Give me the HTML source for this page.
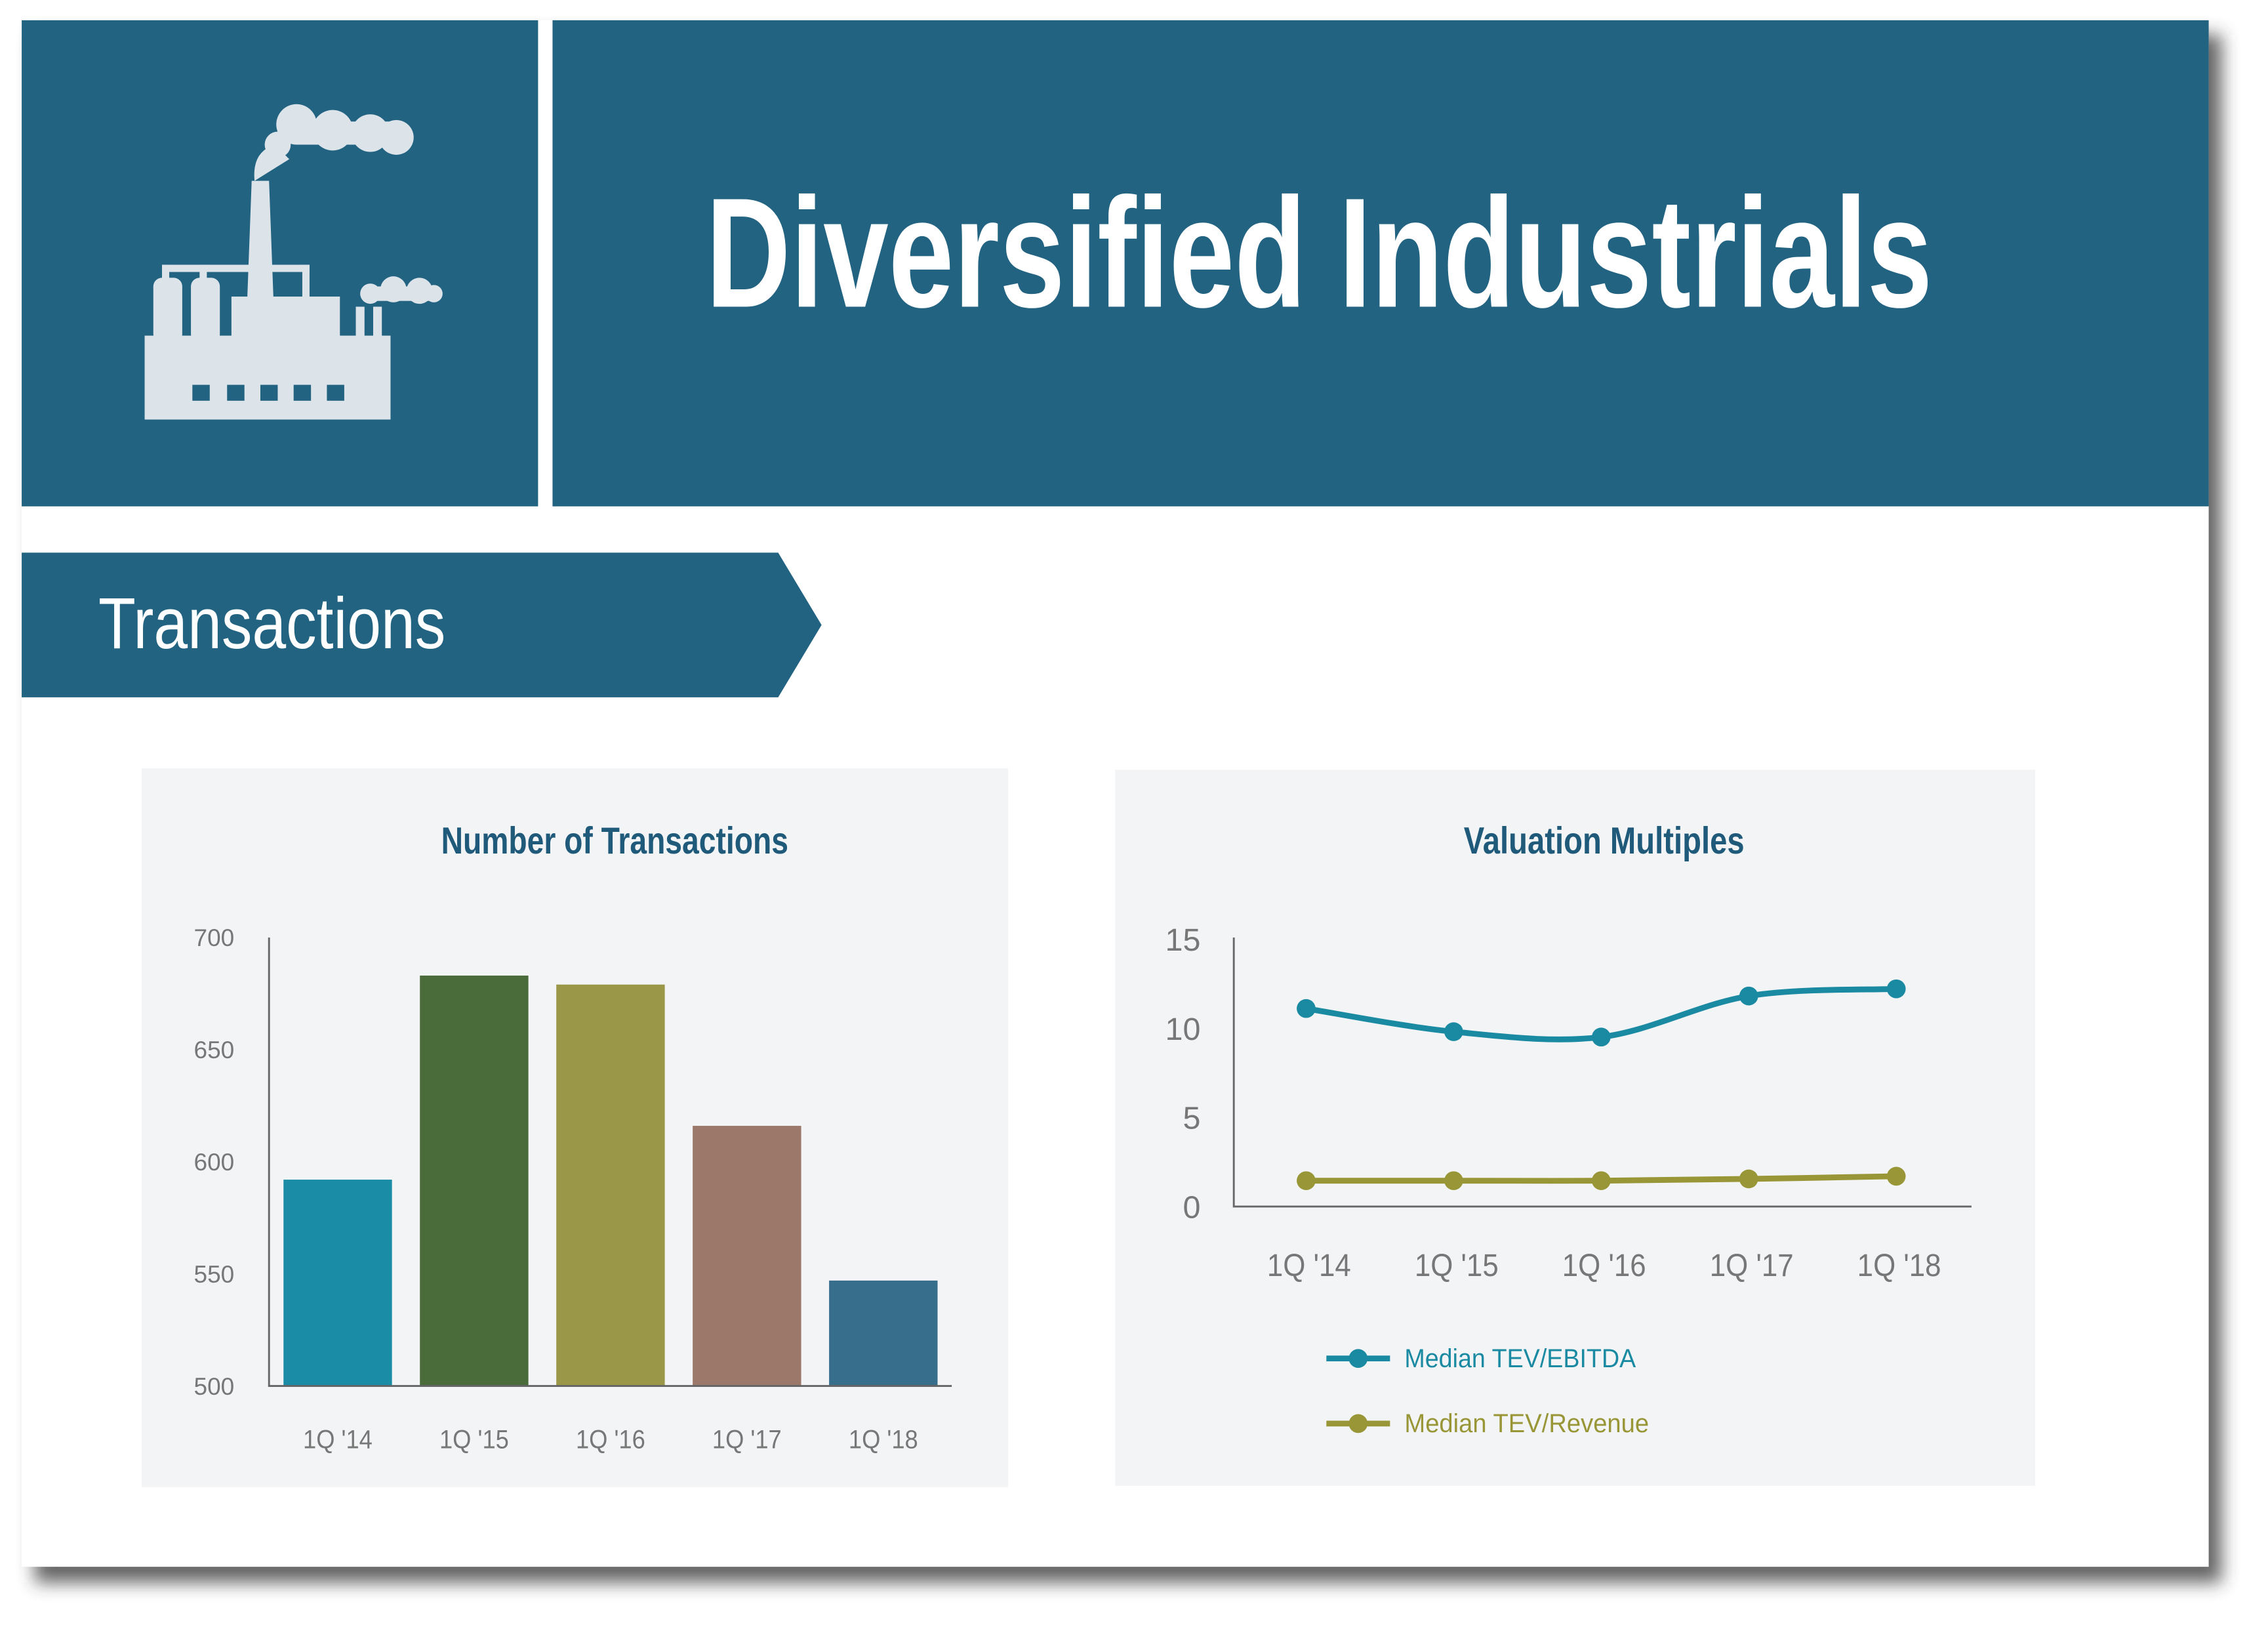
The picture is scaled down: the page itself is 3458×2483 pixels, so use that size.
<!DOCTYPE html>
<html><head><meta charset="utf-8"><style>
html,body{margin:0;padding:0;background:#fff;}
svg{display:block;}
text{font-family:"Liberation Sans Narrow","Liberation Sans",sans-serif;}
</style></head><body>
<svg id="root" width="3458" height="2483" viewBox="0 0 1568 1126" preserveAspectRatio="none">
<defs><filter id="sh" x="-5%" y="-5%" width="110%" height="110%"><feGaussianBlur stdDeviation="6"/></filter></defs>
<rect x="24" y="24" width="1512" height="1070" fill="#333" opacity="0.75" filter="url(#sh)"/>
<rect x="15" y="14" width="1512" height="1069" fill="#fff"/>
<rect x="15" y="14" width="357" height="336" fill="#236382"/>
<rect x="382" y="14" width="1145" height="336" fill="#236382"/>
<g fill="#dce4ea">
<rect x="100" y="232" width="170" height="58"/>
<rect x="106" y="192" width="20" height="45" rx="6"/>
<rect x="132" y="192" width="20" height="45" rx="6"/>
<rect x="112" y="183" width="102" height="5"/>
<rect x="112" y="183" width="5" height="15"/><rect x="138" y="183" width="5" height="15"/><rect x="209" y="183" width="5" height="25"/>
<polygon points="170,232 174,125 186,125 190,232"/>
<rect x="160" y="205" width="75" height="30"/>
<rect x="246" y="212" width="6" height="22"/><rect x="258" y="212" width="6" height="22"/>
<path d="M176 125 Q174 105 190 100 L200 110 Z"/>
<circle cx="192" cy="100" r="9"/><circle cx="205" cy="86" r="14"/><circle cx="230" cy="90" r="14"/><circle cx="256" cy="92" r="13"/><circle cx="274" cy="95" r="12"/>
<rect x="205" y="84" width="70" height="16"/>
<circle cx="256" cy="203" r="7"/><circle cx="272" cy="200" r="9"/><circle cx="290" cy="201" r="9"/><circle cx="300" cy="203" r="6"/>
<rect x="256" y="198" width="44" height="10"/>
</g>
<g fill="#236382"><rect x="133" y="266" width="12" height="11"/><rect x="157" y="266" width="12" height="11"/><rect x="180" y="266" width="12" height="11"/><rect x="203" y="266" width="12" height="11"/><rect x="226" y="266" width="12" height="11"/></g>
<text x="912" y="212" text-anchor="middle" font-size="108" font-weight="bold" fill="#fff" textLength="848" lengthAdjust="spacingAndGlyphs">Diversified Industrials</text>
<polygon points="15,382 538,382 568,432 538,482 15,482" fill="#236382"/>
<text x="68" y="448" font-size="50" fill="#fff" textLength="240" lengthAdjust="spacingAndGlyphs">Transactions</text>
<rect x="98" y="531" width="599" height="497" fill="#f3f4f6"/>
<rect x="771" y="532" width="636" height="495" fill="#f3f4f6"/>
<text x="425" y="590" text-anchor="middle" font-size="26" font-weight="bold" fill="#1f5a7a" textLength="240" lengthAdjust="spacingAndGlyphs">Number of Transactions</text>
<text x="1109" y="590" text-anchor="middle" font-size="26" font-weight="bold" fill="#1f5a7a" textLength="194" lengthAdjust="spacingAndGlyphs">Valuation Multiples</text>
<g id="bars"></g>
<g id="lines"></g>
</svg>
<script>
const barCats=["1Q '14","1Q '15","1Q '16","1Q '17","1Q '18"];
const barVals=[592,683,679,616,547];
const barTicks=[500,550,600,650,700];
const barColors=["#1b8ca6","#4a6b3a","#9a9848","#9c786a","#366e8c"];
const lineCats=["1Q '14","1Q '15","1Q '16","1Q '17","1Q '18"];
const ebitda=[11.1,9.8,9.5,11.8,12.2];
const revenue=[1.45,1.45,1.45,1.55,1.7];
const lineTicks=[0,5,10,15];
const NS="http://www.w3.org/2000/svg";
function mk(p,t,a,txt){const e=document.createElementNS(NS,t);for(const k in a)e.setAttribute(k,a[k]);if(txt!=null)e.textContent=txt;p.appendChild(e);return e;}
const tc='#777';
// bar chart
const bg=document.getElementById('bars');
const by=v=>958-(v-500)/200*310;
const bx=i=>196+i*94.3;
barTicks.forEach(t=>{const e=mk(bg,'text',{x:162,y:by(t)+6,'text-anchor':'end','font-size':17,fill:tc,textLength:28,lengthAdjust:'spacingAndGlyphs'},t);

});
barVals.forEach((v,i)=>{const r=mk(bg,'rect',{x:bx(i),y:by(v),width:75,height:958-by(v),fill:barColors[i]});


const l=mk(bg,'text',{x:bx(i)+37.5,y:1001,'text-anchor':'middle','font-size':18,fill:tc,textLength:48,lengthAdjust:'spacingAndGlyphs'},barCats[i]);

});
const a1=mk(bg,'path',{d:'M186 648V958H658',stroke:'#666','stroke-width':1.3,fill:'none'});


// line chart
const lg=document.getElementById('lines');
const ly=v=>834-v/15*185;
const lx=i=>903+i*102;
lineTicks.forEach(t=>{const e=mk(lg,'text',{x:830,y:ly(t)+8,'text-anchor':'end','font-size':22,fill:tc},t);

});
lineCats.forEach((c,i)=>{const e=mk(lg,'text',{x:lx(i)+2,y:882,'text-anchor':'middle','font-size':22,fill:tc,textLength:58,lengthAdjust:'spacingAndGlyphs'},c);

});
const a2=mk(lg,'path',{d:'M853 648V834H1363',stroke:'#666','stroke-width':1.3,fill:'none'});


function smooth(vals){let pts=vals.map((v,i)=>[lx(i),ly(v)]);let d='M'+pts[0].join(' ');
for(let i=0;i<pts.length-1;i++){const p0=pts[Math.max(0,i-1)],p1=pts[i],p2=pts[i+1],p3=pts[Math.min(pts.length-1,i+2)];
const c1=[p1[0]+(p2[0]-p0[0])/6,p1[1]+(p2[1]-p0[1])/6],c2=[p2[0]-(p3[0]-p1[0])/6,p2[1]-(p3[1]-p1[1])/6];
d+=`C${c1[0]} ${c1[1]} ${c2[0]} ${c2[1]} ${p2[0]} ${p2[1]}`;}return d;}
[[ebitda,'#1a8aa3','ebitda'],[revenue,'#999637','revenue']].forEach(([vals,col,nm])=>{
const p=mk(lg,'path',{d:smooth(vals),stroke:col,'stroke-width':4,fill:'none'});


vals.forEach((v,i)=>{const c=mk(lg,'circle',{cx:lx(i),cy:ly(v),r:6.5,fill:col});

});});
[['Median TEV/EBITDA','#1a8aa3',939,160],['Median TEV/Revenue','#999637',984,169]].forEach(([t,col,y,w])=>{
const g=mk(lg,'g',{});


mk(g,'line',{x1:917,x2:961,y1:y,y2:y,stroke:col,'stroke-width':4});
mk(g,'circle',{cx:939,cy:y,r:6.5,fill:col});
mk(g,'text',{x:971,y:y+6,'font-size':18,fill:col,textLength:w,lengthAdjust:'spacingAndGlyphs'},t);});
</script>
</body></html>
